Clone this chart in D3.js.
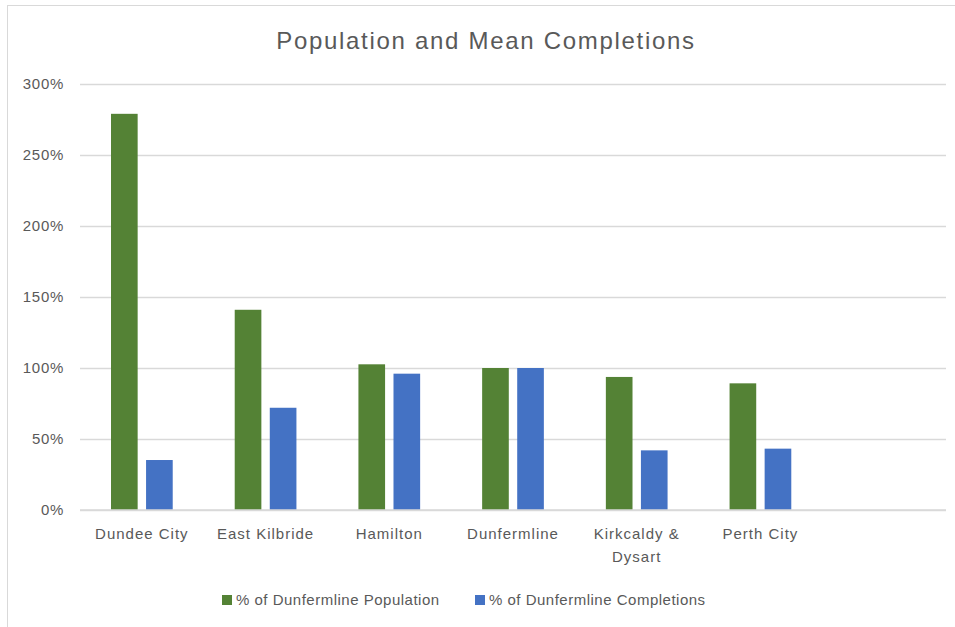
<!DOCTYPE html>
<html>
<head>
<meta charset="utf-8">
<script src="https://cdn.jsdelivr.net/npm/d3@7"></script>
<style>
  body { margin: 0; background: #fff; }
  text { font-family: "Liberation Sans", Arial, sans-serif; fill: #595959; }
</style>
</head>
<body>
<div id="chart"></div>
<script>
// Data
const categories = ["Dundee City", "East Kilbride", "Hamilton", "Dunfermline", "Kirkcaldy & Dysart", "Perth City", ""];
const seriesNames = ["% of Dunfermline Population", "% of Dunfermline Completions"];
const population = [279, 141, 102.6, 100, 93.7, 89.2, null];
const completions = [35.2, 72, 96, 100, 42, 43.2, null];
const yTicks = [0, 50, 100, 150, 200, 250, 300];
const colors = ["#548235", "#4472C4"];

const W = 955, H = 627;
const margin = {top: 84, right: 9, bottom: 117, left: 80};
const width = W - margin.left - margin.right,
      height = H - margin.top - margin.bottom;

const svg = d3.select("#chart").append("svg")
    .attr("width", W)
    .attr("height", H);

// chart frame (only top and left edges fall in the window)
svg.append("rect")
    .attr("x", 7.5).attr("y", 5.5)
    .attr("width", W + 10).attr("height", H + 10)
    .attr("fill", "none")
    .attr("stroke", "#d9d9d9");

svg.append("text")
    .attr("x", 486).attr("y", 49)
    .attr("text-anchor", "middle")
    .style("font-size", "24px")
    .style("letter-spacing", "1.7px")
    .text("Population and Mean Completions");

const g = svg.append("g")
    .attr("transform", "translate(" + margin.left + "," + margin.top + ")");

const x = d3.scaleBand()
    .domain(d3.range(categories.length))
    .range([0, width])
    .paddingInner(0)
    .paddingOuter(0);

const x1 = d3.scaleBand()
    .domain([0, 1])
    .range([31, x.bandwidth() - 31])
    .paddingInner(0.24);

const y = d3.scaleLinear()
    .domain([0, 300])
    .range([height, 0]);

// gridlines
g.append("g")
    .call(d3.axisLeft(y).tickValues(yTicks).tickSize(-width).tickFormat(""))
    .call(a => a.select(".domain").remove())
    .selectAll("line")
    .attr("stroke", "#d9d9d9")
    .attr("stroke-width", 1.3);

// y labels
g.append("g")
    .call(d3.axisLeft(y).tickValues(yTicks).tickSize(0).tickPadding(16).tickFormat(d => d + "%"))
    .call(a => a.select(".domain").remove())
    .selectAll("text")
    .style("font-size", "15px")
    .style("letter-spacing", "0.7px")
    .attr("fill", "#595959");

// bars
const series = [population, completions];
series.forEach((vals, s) => {
  g.append("g").selectAll("rect")
    .data(vals.map((v, i) => ({i, v})).filter(d => d.v != null))
    .join("rect")
    .attr("x", d => x(d.i) + x1(s))
    .attr("y", d => y(d.v))
    .attr("width", x1.bandwidth())
    .attr("height", d => y(0) - y(d.v))
    .attr("fill", colors[s]);
});

// x axis line and labels
g.append("line")
    .attr("x1", 0).attr("x2", width)
    .attr("y1", height).attr("y2", height)
    .attr("stroke", "#d9d9d9")
    .attr("stroke-width", 1.3);

const xl = g.append("g").selectAll("text")
    .data(categories.map((c, i) => ({c, i})))
    .join("text")
    .attr("x", d => x(d.i) + x.bandwidth() / 2)
    .attr("y", height + 29)
    .attr("text-anchor", "middle")
    .style("font-size", "15px")
    .style("letter-spacing", "1px");

xl.each(function(d) {
  const t = d3.select(this);
  const lines = d.c === "Kirkcaldy & Dysart" ? ["Kirkcaldy &", "Dysart"] : [d.c];
  lines.forEach((l, k) => {
    t.append("tspan")
      .attr("x", x(d.i) + x.bandwidth() / 2)
      .attr("dy", k === 0 ? 0 : 23)
      .text(l);
  });
});

// legend
const legendX = [222, 475];
const lg = svg.append("g").selectAll("g")
    .data(seriesNames)
    .join("g")
    .attr("transform", (d, i) => "translate(" + legendX[i] + ",595)");
lg.append("rect")
    .attr("width", 10).attr("height", 10)
    .attr("fill", (d, i) => colors[i]);
lg.append("text")
    .attr("x", 14).attr("y", 10)
    .style("font-size", "15px")
    .style("letter-spacing", "0.5px")
    .text(d => d);
</script>
</body>
</html>
